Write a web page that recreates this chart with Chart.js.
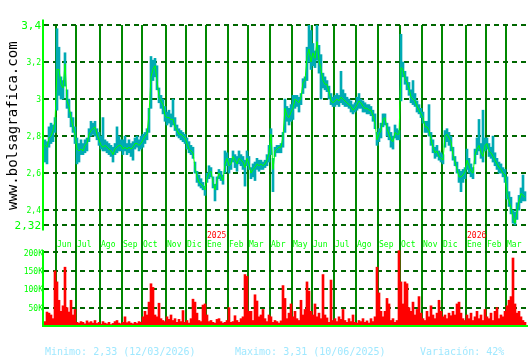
<!DOCTYPE html>
<html>
<head>
<meta charset="utf-8">
<script src="https://cdn.jsdelivr.net/npm/chart.js@4/dist/chart.umd.min.js"></script>
<style>
  html, body { margin: 0; padding: 0; background: #fff; }
</style>
</head>
<body>
<canvas id="chart" width="530" height="360"></canvas>
<script>
// one value every 2 trading days, May 2024 -> Mar 2026
const priceClose = [
  2.75, 2.74, 2.79, 2.80, 2.83, 2.88, 3.16, 3.16, 3.08, 3.06,
  3.19, 2.99, 2.96, 2.90, 2.85, 2.81, 2.73, 2.72, 2.73, 2.72,
  2.75, 2.76, 2.81, 2.83, 2.84, 2.85, 2.81, 2.78, 2.75, 2.74,
  2.75, 2.74, 2.73, 2.72, 2.70, 2.73, 2.74, 2.75, 2.75, 2.73,
  2.74, 2.73, 2.74, 2.73, 2.74, 2.76, 2.76, 2.75, 2.76, 2.78,
  2.80, 2.81, 2.92, 3.12, 3.16, 3.18, 3.10, 3.01, 2.99, 2.97,
  2.91, 2.90, 2.90, 2.89, 2.89, 2.85, 2.83, 2.81, 2.81, 2.80,
  2.79, 2.76, 2.73, 2.72, 2.71, 2.63, 2.58, 2.55, 2.54, 2.53,
  2.51, 2.57, 2.60, 2.61, 2.55, 2.51, 2.56, 2.60, 2.58, 2.56,
  2.65, 2.68, 2.64, 2.65, 2.69, 2.67, 2.65, 2.68, 2.67, 2.66,
  2.63, 2.68, 2.65, 2.60, 2.62, 2.63, 2.65, 2.64, 2.65, 2.64,
  2.65, 2.67, 2.71, 2.81, 2.62, 2.72, 2.73, 2.74, 2.74, 2.80,
  2.95, 2.91, 2.90, 2.93, 2.95, 3.00, 2.99, 2.98, 3.01, 3.09,
  3.10, 3.23, 3.27, 3.20, 3.25, 3.22, 3.31, 3.21, 3.16, 3.10,
  3.08, 3.08, 3.04, 2.99, 2.98, 2.99, 3.00, 2.99, 3.01, 3.00,
  2.99, 2.98, 2.97, 2.96, 2.94, 2.95, 2.97, 2.99, 2.98, 2.96,
  2.95, 2.95, 2.94, 2.94, 2.91, 2.87, 2.78, 2.81, 2.83, 2.89,
  2.90, 2.84, 2.81, 2.78, 2.77, 2.82, 2.81, 2.81, 3.17, 3.16,
  3.11, 3.09, 3.06, 3.01, 3.00, 2.99, 2.96, 2.94, 2.92, 2.90,
  2.85, 2.85, 2.83, 2.78, 2.74, 2.71, 2.72, 2.69, 2.68, 2.67,
  2.80, 2.81, 2.79, 2.77, 2.70, 2.66, 2.62, 2.58, 2.58, 2.59,
  2.61, 2.67, 2.64, 2.61, 2.60, 2.70, 2.73, 2.75, 2.71, 2.69,
  2.75, 2.76, 2.72, 2.71, 2.69, 2.67, 2.65, 2.63, 2.62, 2.60,
  2.59, 2.49, 2.45, 2.41, 2.36, 2.33, 2.39, 2.45, 2.49, 2.48,
  2.47
]
const priceHigh = [
  2.78, 2.77, 2.85, 2.87, 2.86, 2.90, 3.38, 3.28, 3.12, 3.10,
  3.25, 3.05, 3.00, 2.93, 2.90, 2.85, 2.79, 2.76, 2.78, 2.76,
  2.78, 2.79, 2.84, 2.88, 2.87, 2.88, 2.84, 2.82, 2.80, 2.90,
  2.78, 2.77, 2.76, 2.75, 2.74, 2.76, 2.85, 2.80, 2.78, 2.78,
  2.80, 2.76, 2.78, 2.76, 2.77, 2.79, 2.80, 2.78, 2.80, 2.81,
  2.82, 2.84, 2.95, 3.23, 3.21, 3.22, 3.18, 3.06, 3.02, 3.00,
  2.96, 2.93, 2.94, 2.92, 3.00, 2.90, 2.86, 2.84, 2.83, 2.82,
  2.81, 2.79, 2.77, 2.75, 2.74, 2.66, 2.61, 2.59, 2.57, 2.55,
  2.53, 2.60, 2.64, 2.63, 2.58, 2.54, 2.58, 2.62, 2.61, 2.59,
  2.72, 2.71, 2.68, 2.68, 2.72, 2.70, 2.69, 2.72, 2.70, 2.69,
  2.67, 2.72, 2.69, 2.63, 2.65, 2.66, 2.68, 2.67, 2.67, 2.66,
  2.67, 2.70, 2.75, 2.84, 2.68, 2.74, 2.75, 2.75, 2.76, 2.82,
  3.00, 2.96, 2.95, 2.97, 3.02, 3.02, 3.02, 3.01, 3.03, 3.11,
  3.12, 3.28, 3.40, 3.37, 3.30, 3.26, 3.40, 3.29, 3.24, 3.14,
  3.12, 3.10, 3.07, 3.03, 3.01, 3.02, 3.03, 3.02, 3.15, 3.05,
  3.03, 3.01, 3.00, 2.99, 2.97, 2.98, 3.01, 3.03, 3.00, 2.99,
  2.98, 2.97, 2.97, 2.96, 2.94, 2.92, 2.82, 2.84, 2.87, 2.92,
  2.92, 2.87, 2.85, 2.82, 2.80, 2.86, 2.84, 2.83, 3.35, 3.20,
  3.15, 3.12, 3.09, 3.05, 3.10, 3.03, 2.99, 2.97, 2.95, 2.93,
  2.88, 2.88, 2.97, 2.82, 2.78, 2.74, 2.75, 2.72, 2.71, 2.70,
  2.83, 2.84, 2.82, 2.80, 2.74, 2.69, 2.66, 2.62, 2.61, 2.62,
  2.63, 2.73, 2.68, 2.65, 2.63, 2.73, 2.79, 2.89, 2.76, 2.94,
  2.79, 2.79, 2.76, 2.74, 2.80, 2.71, 2.68, 2.66, 2.65, 2.63,
  2.62, 2.58, 2.50, 2.47, 2.40, 2.39, 2.44, 2.48, 2.52, 2.59,
  2.50
]
const priceLow = [
  2.66, 2.65, 2.74, 2.76, 2.77, 2.82, 2.94, 3.02, 3.00, 3.00,
  3.07, 2.95, 2.90, 2.85, 2.82, 2.76, 2.65, 2.66, 2.70, 2.70,
  2.71, 2.72, 2.77, 2.80, 2.81, 2.80, 2.78, 2.75, 2.73, 2.72,
  2.72, 2.71, 2.70, 2.69, 2.66, 2.70, 2.71, 2.72, 2.72, 2.70,
  2.72, 2.70, 2.71, 2.69, 2.67, 2.73, 2.74, 2.72, 2.73, 2.74,
  2.76, 2.78, 2.82, 2.95, 3.10, 3.12, 3.05, 2.98, 2.95, 2.92,
  2.88, 2.86, 2.87, 2.85, 2.86, 2.83, 2.80, 2.79, 2.78, 2.77,
  2.76, 2.73, 2.71, 2.70, 2.68, 2.60, 2.55, 2.53, 2.52, 2.51,
  2.48, 2.55, 2.57, 2.58, 2.52, 2.45, 2.51, 2.57, 2.56, 2.54,
  2.60, 2.64, 2.60, 2.62, 2.66, 2.63, 2.61, 2.65, 2.64, 2.62,
  2.53, 2.64, 2.62, 2.57, 2.58, 2.56, 2.62, 2.61, 2.62, 2.62,
  2.63, 2.64, 2.66, 2.70, 2.50, 2.69, 2.71, 2.71, 2.71, 2.74,
  2.82, 2.88, 2.86, 2.88, 2.89, 2.95, 2.96, 2.93, 2.97, 3.03,
  3.06, 3.10, 3.20, 3.16, 3.18, 3.17, 3.21, 3.14, 3.00, 3.06,
  3.05, 3.04, 3.00, 2.97, 2.96, 2.96, 2.97, 2.96, 2.98, 2.97,
  2.96, 2.96, 2.95, 2.93, 2.92, 2.93, 2.94, 2.95, 2.95, 2.93,
  2.93, 2.92, 2.92, 2.91, 2.88, 2.84, 2.75, 2.77, 2.79, 2.85,
  2.86, 2.80, 2.78, 2.74, 2.73, 2.79, 2.78, 2.78, 2.99, 3.12,
  3.08, 3.05, 3.02, 2.98, 2.97, 2.96, 2.93, 2.92, 2.90, 2.87,
  2.82, 2.82, 2.80, 2.75, 2.71, 2.68, 2.69, 2.67, 2.66, 2.65,
  2.74, 2.77, 2.75, 2.72, 2.67, 2.64, 2.60, 2.55, 2.50, 2.55,
  2.57, 2.62, 2.60, 2.58, 2.57, 2.65, 2.70, 2.72, 2.68, 2.66,
  2.72, 2.73, 2.69, 2.68, 2.66, 2.64, 2.62, 2.60, 2.60, 2.58,
  2.55, 2.46, 2.42, 2.38, 2.33, 2.32, 2.35, 2.40, 2.44, 2.45,
  2.45
]
// volume in thousands of shares
const volume = [
  12, 38, 35, 30, 20, 150, 120, 70, 40, 55,
  160, 50, 38, 70, 30, 45, 10, 8, 12, 10,
  6, 14, 9, 12, 8, 15, 7, 10, 5, 12,
  8, 6, 10, 4, 7, 12, 15, 8, 6, 10,
  25, 9, 12, 8, 6, 10, 7, 12, 10, 25,
  40, 30, 65, 115, 105, 30, 25, 62, 20, 15,
  12, 25, 18, 30, 15, 20, 10, 18, 12, 42,
  10, 15, 8, 20, 73, 65, 35, 15, 12, 57,
  60, 30, 12, 15, 10, 8, 18, 20, 12, 8,
  10, 15, 50, 10, 12, 28, 15, 10, 20, 25,
  140, 135, 40, 40, 15, 85, 68, 25, 30, 45,
  20, 12, 30, 25, 10, 15, 12, 8, 14, 110,
  75, 20, 35, 60, 25, 40, 20, 15, 70, 30,
  45, 120, 95, 40, 30, 60, 25, 35, 20, 140,
  30, 22, 10, 125, 15, 20, 12, 25, 18, 45,
  15, 10, 20, 12, 30, 10, 8, 15, 12, 20,
  10, 14, 8, 20, 12, 25, 160, 90, 40, 25,
  40, 75, 60, 15, 20, 10, 15, 205, 120, 60,
  120, 115, 50, 40, 65, 30, 45, 80, 35, 20,
  15, 40, 25, 55, 30, 20, 35, 70, 40, 25,
  30, 20, 35, 28, 40, 30, 60, 65, 35, 20,
  15, 30, 20, 35, 15, 25, 40, 20, 30, 15,
  45, 25, 20, 35, 15, 40, 50, 20, 30, 25,
  40, 55, 70, 80, 185, 60, 35, 40, 25, 15,
  10
]
const monthNames = ["Jun", "Jul", "Ago", "Sep", "Oct", "Nov", "Dic", "Ene", "Feb", "Mar", "Abr",
                    "May", "Jun", "Jul", "Ago", "Sep", "Oct", "Nov", "Dic", "Ene", "Feb", "Mar"]
const monthStarts = [6, 16, 28, 39, 49, 61, 71, 81, 92, 102, 113, 124, 134, 145, 156, 167, 178, 189, 199, 211, 221, 231]
const yearNames = ["2025", "2026"]
const yearStarts = [81, 211]
const priceTicks = [2.32, 2.4, 2.6, 2.8, 3, 3.2, 3.4]
const volumeTicks = [50, 100, 150, 200]
const slotCount = 242

const labels = Array.from({ length: slotCount }, (_, i) => {
    const m = monthStarts.indexOf(i)
    return m >= 0 ? monthNames[m] : ""
})

const MONO = "'DejaVu Sans Mono', monospace"

const decorations = {
    id: "decorations",
    afterDraw(chart) {
        const { ctx, chartArea, scales } = chart
        const x = scales.x, y = scales.y, y2 = scales.y2
        ctx.save()

        // lime axis lines
        ctx.strokeStyle = "#00ff00"
        ctx.lineWidth = 2
        ctx.beginPath()
        ctx.moveTo(chartArea.left - 1, y.getPixelForValue(3.43))
        ctx.lineTo(chartArea.left - 1, y.getPixelForValue(2.29))
        ctx.moveTo(chartArea.left - 1, y2.getPixelForValue(207))
        ctx.lineTo(chartArea.left - 1, y2.getPixelForValue(0))
        ctx.lineTo(chartArea.right, y2.getPixelForValue(0))
        ctx.stroke()

        // price tick labels
        ctx.fillStyle = "#00ff00"
        ctx.textAlign = "right"
        ctx.textBaseline = "middle"
        priceTicks.forEach((v, i) => {
            const big = i === 0 || i === priceTicks.length - 1
            ctx.font = (big ? "11px " : "8px ") + MONO
            ctx.fillText(String(v).replace(".", ","), 41, y.getPixelForValue(v) + 1)
        })
        ctx.font = "8px " + MONO
        volumeTicks.forEach(v => {
            ctx.fillText(v + "K", 43, y2.getPixelForValue(v) + 1)
        })

        // month labels between the panels
        ctx.textAlign = "left"
        monthStarts.forEach((k, i) => {
            ctx.fillText(monthNames[i], x.getPixelForValue(k), 245)
        })
        ctx.fillStyle = "#ff0000"
        yearStarts.forEach((k, i) => {
            ctx.fillText(yearNames[i], x.getPixelForValue(k), 236)
        })

        // stats line
        ctx.fillStyle = "#a0e8ff"
        ctx.font = "10px " + MONO
        ctx.fillText("Minimo: 2,33 (12/03/2026)", 45, 352)
        ctx.fillText("Maximo: 3,31 (10/06/2025)", 235, 352)
        ctx.fillText("Variación: 42%", 420, 352)

        // site name, vertical
        ctx.translate(17, 210)
        ctx.rotate(-Math.PI / 2)
        ctx.fillStyle = "#000"
        ctx.font = "14px " + MONO
        ctx.textBaseline = "alphabetic"
        ctx.fillText("www.bolsagrafica.com", 0, 0)
        ctx.restore()
    }
}

const zeroWidth = scale => { scale.width = 0 }

new Chart(document.getElementById("chart"), {
    type: "bar",
    data: {
        labels: labels,
        datasets: [{
            type: "line",
            data: priceClose,
            borderColor: "#00ff00",
            borderWidth: 1,
            pointRadius: 0,
            yAxisID: "y",
            order: 1
        }, {
            data: priceLow.map((lo, i) => [lo, priceHigh[i]]),
            backgroundColor: "#00aab4",
            yAxisID: "y",
            grouped: false,
            barPercentage: 1,
            categoryPercentage: 1,
            order: 2
        }, {
            data: volume,
            backgroundColor: "#ff0000",
            yAxisID: "y2",
            grouped: false,
            barPercentage: 1,
            categoryPercentage: 1,
            order: 3
        }]
    },
    options: {
        responsive: false,
        animation: false,
        devicePixelRatio: 1,
        layout: { padding: { left: 44, right: 2, top: 25, bottom: 34 } },
        plugins: {
            legend: { display: false },
            tooltip: { enabled: false }
        },
        scales: {
            x: {
                ticks: { display: false },
                border: { display: false },
                grid: {
                    drawTicks: false,
                    lineWidth: 2,
                    color: ctx => ctx.tick && ctx.tick.label ? "#008800" : "rgba(0,0,0,0)"
                },
                afterFit: scale => { scale.height = 0 }
            },
            y: {
                position: "left",
                min: 1.7746,
                max: 3.4,
                ticks: { display: false },
                border: { display: false, dash: [5, 4] },
                grid: { drawTicks: false, lineWidth: 2, color: "#006600" },
                afterBuildTicks: scale => { scale.ticks = priceTicks.map(v => ({ value: v })) },
                afterFit: zeroWidth
            },
            y2: {
                position: "left",
                min: 0,
                max: 819,
                ticks: { display: false },
                border: { display: false, dash: [5, 4] },
                grid: { drawTicks: false, lineWidth: 2, color: "#006600" },
                afterBuildTicks: scale => { scale.ticks = volumeTicks.map(v => ({ value: v })) },
                afterFit: zeroWidth
            }
        }
    },
    plugins: [decorations]
})
</script>
</body>
</html>
